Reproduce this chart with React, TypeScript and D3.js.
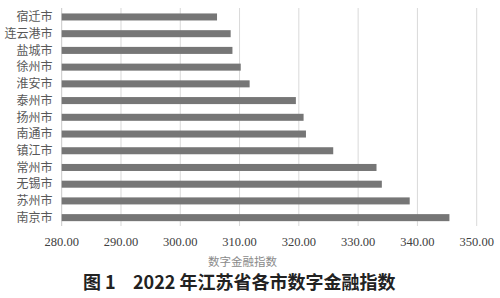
import React from "react";
import * as d3 from "d3";

const cities = ["宿迁市", "连云港市", "盐城市", "徐州市", "淮安市", "泰州市", "扬州市", "南通市", "镇江市", "常州市", "无锡市", "苏州市", "南京市"];
const values = [306.2, 308.5, 308.8, 310.2, 311.7, 319.5, 320.8, 321.2, 325.8, 333.1, 334.0, 338.7, 345.4];
const xTicks = [280, 290, 300, 310, 320, 330, 340, 350];
const xTitle = "数字金融指数";
const titlePrefix = "图 1";
const titleMain = "2022 年江苏省各市数字金融指数";

export default function App() {
  const W = 500, H = 298;
  const x = d3.scaleLinear().domain([280, 350]).range([61.7, 476.7]);
  const y = d3.scaleBand<string>().domain(cities).range([8.6, 226]).paddingInner(0.58).paddingOuter(0.29);
  const cjk = "\"Noto Sans CJK SC\", sans-serif";
  const serif = "\"Liberation Serif\", \"Times New Roman\", serif";
  return (
    <svg width={W} height={H} style={{ position: "absolute", left: 0, top: 0, background: "#fff" }}>
      <rect x={0} y={0} width={W} height={H} fill="#fff" />
      {xTicks.map((t) => (
        <line key={"g" + t} x1={x(t)} x2={x(t)} y1={8} y2={226} stroke={t === 280 ? "#c8c8c8" : "#d9d9d9"} strokeWidth={1} />
      ))}
      {cities.map((c, i) => (
        <rect key={c} x={x(280)} y={y(c)!} width={x(values[i]) - x(280)} height={y.bandwidth()} fill="#767676" />
      ))}
      {cities.map((c) => (
        <text key={"l" + c} x={52.5} y={y(c)! + y.bandwidth() / 2} dy="0.35em" textAnchor="end" style={{ fontFamily: cjk, fontSize: 12 }} fill="#585858">
          {c}
        </text>
      ))}
      {xTicks.map((t) => (
        <text key={"t" + t} x={x(t)} y={241.7} dy="0.35em" textAnchor="middle" style={{ fontFamily: serif, fontSize: 12.5 }} fill="#404040">
          {d3.format(".2f")(t)}
        </text>
      ))}
      <text x={242.5} y={262} dy="0.35em" textAnchor="middle" style={{ fontFamily: cjk, fontSize: 11.5 }} fill="#8a8a8a">
        {xTitle}
      </text>
      <text x={83} y={283} dy="0.35em" style={{ fontFamily: cjk, fontSize: 18, fontWeight: "bold" }} fill="#222">
        {titlePrefix}
      </text>
      <text x={133} y={283} dy="0.35em" style={{ fontFamily: cjk, fontSize: 18, fontWeight: "bold" }} fill="#222">
        {titleMain}
      </text>
    </svg>
  );
}
